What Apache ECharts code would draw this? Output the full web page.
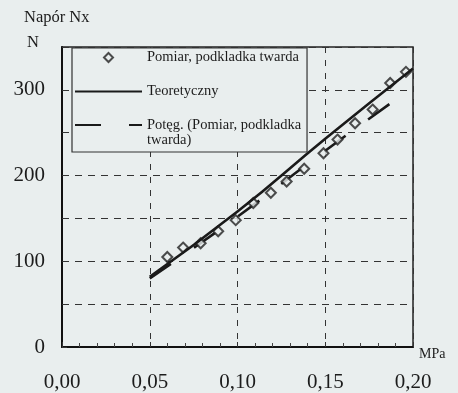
<!DOCTYPE html>
<html><head><meta charset="utf-8">
<script src="https://cdn.jsdelivr.net/npm/echarts@6/dist/echarts.min.js"></script>
<style>html,body{margin:0;padding:0;background:#e9eeee}#c{width:458px;height:393px}</style>
</head><body><div id="c"></div>
<script>
// ---- data ----
const xTickValues = [0, 0.05, 0.10, 0.15, 0.20];
const yTickLabels = [0, 100, 200, 300];
const seriesNames = ['Pomiar, podkladka twarda', 'Teoretyczny', 'Potęg. (Pomiar, podkladka twarda)'];
const pressureMeasured = [0.060, 0.069, 0.079, 0.089, 0.099, 0.109, 0.119, 0.128, 0.138, 0.149, 0.157, 0.167, 0.177, 0.187, 0.196];
const thrustMeasured   = [105, 116, 121, 135, 148, 168, 180, 193, 208, 226, 242, 261, 277, 308, 321];
const pressureTheory = [0.05, 0.10, 0.15, 0.20];
const thrustTheory   = [82, 158, 243, 325];
const pressureTrend  = [0.05, 0.10, 0.15, 0.198];
const thrustTrend    = [80, 152, 229, 300];

const FONT = 'Liberation Serif';
const INK = '#1c1c1c';
const BG = '#e9eeee';
const zip = (a, b) => a.map((v, i) => [v, b[i]]);
const diamond = 'path://M5,0L10,5L5,10L0,5Z';

const chart = echarts.init(document.getElementById('c'), null, {renderer: 'canvas'});
chart.setOption({
  backgroundColor: BG,
  animation: false,
  title: [
    {text: 'Napór Nx', left: 24, top: 9, padding: 0,
     textStyle: {fontFamily: FONT, fontSize: 16.5, fontWeight: 'normal', color: INK}},
    {text: 'N', left: 27, top: 34, padding: 0,
     textStyle: {fontFamily: FONT, fontSize: 16.5, fontWeight: 'normal', color: INK}}
  ],
  grid: {left: 62, right: 45, top: 47, bottom: 46, show: true, borderColor: '#222', borderWidth: 1.5, backgroundColor: 'transparent'},
  legend: [
    {
      orient: 'vertical', left: 72, top: 48,
      itemWidth: 67, itemHeight: 9, itemGap: 19,
      padding: [2, 8, 53, 2],
      backgroundColor: BG, borderColor: '#333', borderWidth: 1.2,
      data: [
        {name: seriesNames[0], icon: diamond},
        {name: seriesNames[1], itemStyle: {color: 'rgba(0,0,0,0)', borderWidth: 0, borderColor: 'rgba(0,0,0,0)'}}
      ],
      textStyle: {fontFamily: FONT, fontSize: 14.5, lineHeight: 15, color: INK},
      selectedMode: false, z: 5
    },
    {
      orient: 'vertical', left: 74, top: 102.5,
      itemWidth: 67, itemHeight: 9, padding: 0,
      data: [
        {name: seriesNames[2], itemStyle: {color: 'rgba(0,0,0,0)', borderWidth: 0, borderColor: 'rgba(0,0,0,0)'}}
      ],
      formatter: () => '\nPotęg. (Pomiar, podkladka\ntwarda)',
      textStyle: {fontFamily: FONT, fontSize: 14.5, lineHeight: 15, color: INK},
      selectedMode: false, z: 6
    }
  ],
  xAxis: {
    type: 'value', min: 0, max: 0.20, interval: 0.05,
    name: 'MPa', nameLocation: 'end', nameGap: 6,
    nameTextStyle: {fontFamily: FONT, fontSize: 14, lineHeight: 14, color: INK, verticalAlign: 'top', padding: [0, 0, 0, 0]},
    axisLine: {show: true, lineStyle: {color: '#111', width: 2}},
    axisTick: {show: true, inside: true, length: 5, lineStyle: {color: '#333'}},
    minorTick: {show: true, splitNumber: 5, length: 4, lineStyle: {color: '#444'}},
    axisLabel: {margin: 25, fontFamily: FONT, fontSize: 21, color: INK,
      customValues: xTickValues,
      formatter: v => v.toFixed(2).replace('.', ',')},
    splitLine: {show: true, lineStyle: {type: [6, 7], color: '#333', width: 1}}
  },
  yAxis: {
    type: 'value', min: 0, max: 350, interval: 50,
    axisLine: {show: true, lineStyle: {color: '#111', width: 2}},
    axisTick: {show: true, inside: true, length: 5, lineStyle: {color: '#333'}},
    axisLabel: {margin: 17, fontFamily: FONT, fontSize: 21, color: INK,
      formatter: v => yTickLabels.indexOf(v) >= 0 ? String(v) : ''},
    splitLine: {show: true, lineStyle: {type: [7, 6], color: '#333', width: 1}}
  },
  series: [
    {
      name: seriesNames[0], type: 'scatter', data: zip(pressureMeasured, thrustMeasured),
      symbol: diamond, symbolSize: 10,
      itemStyle: {color: BG, borderColor: '#222', borderWidth: 2}, z: 3
    },
    {
      name: seriesNames[1], type: 'line', data: zip(pressureTheory, thrustTheory),
      smooth: true, showSymbol: false, symbol: 'circle',
      lineStyle: {color: '#1a1a1a', width: 2.6}, z: 4
    },
    {
      name: seriesNames[2], type: 'line', data: zip(pressureTrend, thrustTrend),
      smooth: true, showSymbol: false, symbol: 'circle',
      lineStyle: {color: '#1a1a1a', width: 2.6, type: [26, 28]}, z: 2
    }
  ]
});
</script></body></html>
